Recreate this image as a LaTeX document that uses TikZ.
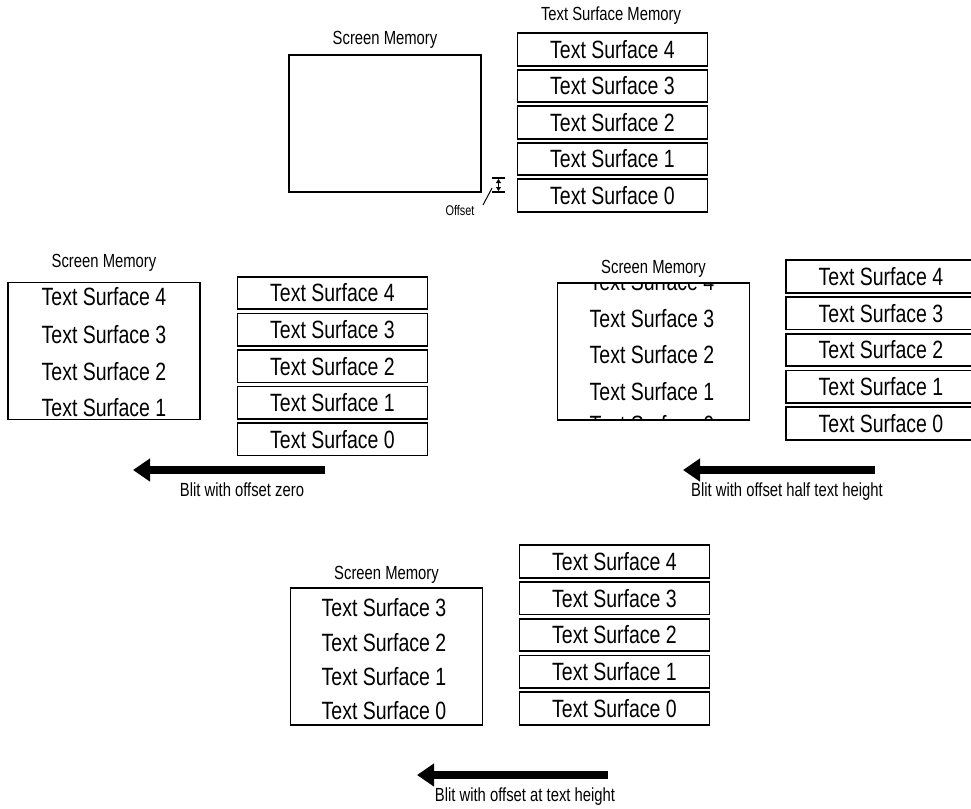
\documentclass[tikz,border=0pt]{standalone}
\usepackage{fontspec}
\setmainfont{Liberation Sans}[FakeStretch=0.78]
\usetikzlibrary{arrows.meta}

\begin{document}
\begin{tikzpicture}
[x=1pt,y=-1pt,
  surfacedecorate/.style={draw,line width=1.6pt,minimum width=190pt,
    minimum height=32.5pt,inner sep=0pt,font=\fontsize{25}{25}\selectfont},
  screendecorate/.style={draw,line width=1.2pt,inner sep=0pt,
    minimum width=192pt,minimum height=137pt},
  linetextdecorate/.style={inner sep=0pt,font=\fontsize{25}{25}\selectfont},
  captiondecorate/.style={inner sep=0pt,font=\fontsize{19}{19}\selectfont},
  blitdecorate/.style={line width=8pt,-{Triangle[length=17pt,width=22pt]}}]
\useasboundingbox (0,0) rectangle (971,808);
%% text surface stacks
\foreach \stackname/\xc/\yc/\pitch in {t/612.5/49.5/36.5, l/332.5/293/36.6,
  r/881/276.5/36.75, b/614.5/561.5/36.75}
{
  \foreach \n in {4,...,0}
    \node (\stackname\n) at (\xc,{\yc+(4-\n)*\pitch}) [surfacedecorate]
      {Text Surface \n};
}
\node (tstackcap) at (611,16) [captiondecorate] {Text Surface Memory};
%% screen memories
\foreach \scrname/\xc/\yc/\capy in {tscr/385/123.5/40, lscr/104/351/263,
  rscr/653.5/351.5/269, bscr/386.5/656.5/575}
{
  \node (\scrname) at (\xc,\yc) [screendecorate] {};
  \node (\scrname cap) at (\xc,\capy) [captiondecorate] {Screen Memory};
}
%% lines copied into the screens
\foreach \n/\y in {4/297, 3/335, 2/372, 1/408}
  \node (lline\n) at (104,\y) [linetextdecorate] {Text Surface \n};
\begin{scope}
  \clip (rscr.north west) rectangle (rscr.south east);
  \foreach \n/\y in {4/282, 3/318.5, 2/355, 1/391.5, 0/425}
    \node (rline\n) at (652,\y) [linetextdecorate] {Text Surface \n};
\end{scope}
\foreach \n/\y in {3/608, 2/643, 1/677, 0/711}
  \node (bline\n) at (384,\y) [linetextdecorate] {Text Surface \n};
%% offset marker
\coordinate (offtop) at (498.5,178);
\coordinate (offbot) at (498.5,192);
\draw[line width=1.2pt] ([xshift=-6.5pt]offtop) -- ([xshift=6.5pt]offtop);
\draw[line width=1.2pt] ([xshift=-6.5pt]offbot) -- ([xshift=6.5pt]offbot);
\draw[line width=1pt,{Triangle[length=4pt,width=5pt]}-{Triangle[length=4pt,width=5pt]}]
  ([yshift=-1pt]offtop) -- ([yshift=1pt]offbot);
\node (offlabel) at (460,211) [inner sep=0pt,font=\fontsize{14}{14}\selectfont] {Offset};
\coordinate (offlead) at (492,188);
\draw[line width=1pt] (483,205) -- (offlead);
%% blit arrows
\foreach \blitname/\xs/\xe/\y/\ly/\lx/\words in {
  lblit/325/133/470/490/242/{Blit with offset zero},
  rblit/875/683/470/492/787/{Blit with offset half text height},
  bblit/608/417/775/797/525/{Blit with offset at text height}}
{
  \coordinate (\blitname start) at (\xs,\y);
  \coordinate (\blitname end) at (\xe,\y);
  \draw[blitdecorate] (\blitname start) -- (\blitname end);
  \node (\blitname cap) at (\lx,\ly) [captiondecorate] {\words};
}
\end{tikzpicture}
\end{document}
